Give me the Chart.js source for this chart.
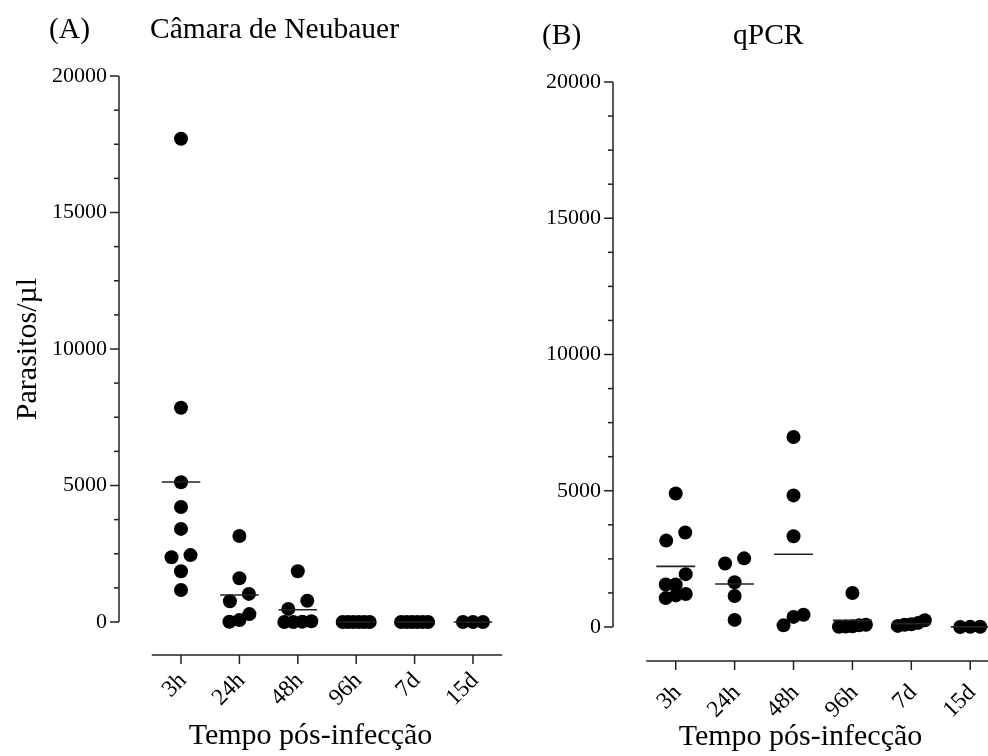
<!DOCTYPE html>
<html>
<head>
<meta charset="utf-8">
<script src="https://cdn.jsdelivr.net/npm/chart.js@4.4.1/dist/chart.umd.min.js"></script>
<style>
  html, body { margin: 0; padding: 0; background: #fff; }
  #wrap { position: relative; width: 988px; height: 756px; overflow: hidden; font-family: "Liberation Serif", "Times New Roman", serif; color: #000; }
  canvas { position: absolute; top: 0; }
  .t { position: absolute; font-size: 29.5px; line-height: 1; white-space: nowrap; }
</style>
</head>
<body>
<div id="wrap">
  <canvas id="cA" width="540" height="756" style="left:0px"></canvas>
  <canvas id="cB" width="530" height="756" style="left:494px"></canvas>
  <div class="t" style="left:49px; top:14px">(A)</div>
  <div class="t" style="left:150px; top:14px">Câmara de Neubauer</div>
  <div class="t" style="left:542px; top:20px">(B)</div>
  <div class="t" style="left:733px; top:20px">qPCR</div>
</div>
<script>
// ---- data ----
const categories = ['3h', '24h', '48h', '96h', '7d', '15d'];
const yTicksMajor = [0, 5000, 10000, 15000, 20000];

// (A) Câmara de Neubauer – parasitos/µl
const neubauer3h  = [17700, 7850, 5120, 4210, 3410, 2450, 2370, 1860, 1170];
const neubauer24h = [3150, 1600, 1030, 760, 290, 70, 10];
const neubauer48h = [1860, 780, 480, 30, 10, 0, 0];
const neubauer96h = [0, 0, 0, 0, 0, 0];
const neubauer7d  = [0, 0, 0, 0, 0, 0];
const neubauer15d = [0, 0, 0];

// (B) qPCR – parasitos/µl
const qpcr3h  = [4900, 3470, 3170, 1940, 1560, 1560, 1210, 1160, 1060];
const qpcr24h = [2520, 2330, 1640, 1140, 260];
const qpcr48h = [6970, 4830, 3330, 450, 370, 60];
const qpcr96h = [1250, 80, 60, 30, 20, 10];
const qpcr7d  = [250, 150, 100, 80, 40];
const qpcr15d = [10, 5, 0];

const groupsA = [neubauer3h, neubauer24h, neubauer48h, neubauer96h, neubauer7d, neubauer15d];
const groupsB = [qpcr3h, qpcr24h, qpcr48h, qpcr96h, qpcr7d, qpcr15d];

// ---- helpers ----
const FONT = '"Liberation Serif", "Times New Roman", serif';
const DOT = 14; // dot diameter px

// beeswarm-like horizontal spread (computed, in category units)
function swarm(values, pxPerCat, pxPerUnitY) {
  const idx = values.map((v, i) => i).sort((a, b) => values[a] - values[b]);
  const offs = new Array(values.length).fill(0);
  const rows = [];
  let row = [];
  idx.forEach(i => {
    if (row.length && (values[i] - values[row[0]]) * pxPerUnitY >= DOT - 1) { rows.push(row); row = []; }
    row.push(i);
  });
  if (row.length) rows.push(row);
  rows.forEach(r => {
    const n = r.length;
    if (n < 2) return;
    const sp = n === 2 ? 19 : Math.min(10, 27 / (n - 1));
    r.forEach((i, k) => { offs[i] = (k - (n - 1) / 2) * sp / pxPerCat; });
  });
  return offs;
}

function mean(a) { return a.reduce((s, v) => s + v, 0) / a.length; }

function buildDatasets(groups, pxPerCat, pxPerUnitY) {
  const pts = [];
  groups.forEach((vals, gi) => {
    const offs = swarm(vals, pxPerCat, pxPerUnitY);
    vals.forEach((v, k) => pts.push({ x: gi + offs[k], y: v }));
  });
  const ds = [{
    data: pts,
    pointRadius: DOT / 2,
    pointHoverRadius: DOT / 2,
    pointBackgroundColor: '#000',
    pointBorderWidth: 0,
    borderWidth: 0,
    clip: false,
    order: 2
  }];
  groups.forEach((vals, gi) => {
    const m = mean(vals);
    ds.push({
      data: [{ x: gi - 0.33, y: m }, { x: gi + 0.33, y: m }],
      showLine: true,
      borderColor: '#222',
      borderWidth: 1.6,
      pointRadius: 0,
      clip: false,
      order: 1
    });
  });
  return ds;
}

// axis drawing plugin (detached x-axis, major/minor y ticks)
function axesPlugin(xOffset) {
  return {
    id: 'axes',
    afterDraw(chart) {
      const ctx = chart.ctx;
      const xs = chart.scales.x, ys = chart.scales.y;
      const left = chart.chartArea.left;
      ctx.save();
      ctx.strokeStyle = '#222';
      ctx.lineWidth = 1.5;
      const yTop = ys.getPixelForValue(20000), yBot = ys.getPixelForValue(0);
      ctx.beginPath();
      ctx.moveTo(left, yTop); ctx.lineTo(left, yBot); ctx.stroke();
      for (let v = 0; v <= 20000; v += 1250) {
        const y = ys.getPixelForValue(v);
        const len = (v % 5000 === 0) ? 9 : 5;
        ctx.beginPath(); ctx.moveTo(left - len, y); ctx.lineTo(left, y); ctx.stroke();
      }
      const yAx = chart.chartArea.bottom + xOffset;
      ctx.beginPath();
      ctx.moveTo(xs.getPixelForValue(-0.5), yAx);
      ctx.lineTo(xs.getPixelForValue(categories.length - 0.5), yAx);
      ctx.stroke();
      categories.forEach((c, i) => {
        const x = xs.getPixelForValue(i);
        ctx.beginPath(); ctx.moveTo(x, yAx); ctx.lineTo(x, yAx + 9); ctx.stroke();
      });
      ctx.restore();
    }
  };
}

function makeChart(id, groups, cfg) {
  const pxPerUnitY = cfg.plotH / 20000;
  return new Chart(document.getElementById(id), {
    type: 'scatter',
    data: { datasets: buildDatasets(groups, cfg.pxPerCat, pxPerUnitY) },
    options: {
      responsive: false,
      animation: false,
      devicePixelRatio: 1,
      events: [],
      layout: { padding: { top: cfg.top, left: 0, right: cfg.right, bottom: 0 } },
      plugins: { legend: { display: false }, tooltip: { enabled: false } },
      scales: {
        x: {
          type: 'linear',
          min: cfg.xmin, max: cfg.xmax,
          grid: { display: true, drawOnChartArea: false, drawTicks: true, tickLength: cfg.xLabelGap, tickColor: 'rgba(0,0,0,0)' },
          border: { display: false },
          afterBuildTicks(s) { s.ticks = categories.map((c, i) => ({ value: i })); },
          afterFit(s) { s.height = cfg.xHeight; },
          ticks: {
            autoSkip: false,
            minRotation: 45, maxRotation: 45,
            padding: 0,
            labelOffset: 2,
            color: '#000',
            font: { family: FONT, size: 23.5 },
            callback: (v) => categories[Math.round(v)]
          },
          title: {
            display: true, text: 'Tempo pós-infecção', color: '#000',
            font: { family: FONT, size: 30 }, padding: { top: 0, bottom: cfg.xTitlePad }
          }
        },
        y: {
          type: 'linear',
          min: 0, max: 20000,
          grid: { display: false, drawTicks: false },
          border: { display: false },
          afterBuildTicks(s) { s.ticks = yTicksMajor.map(v => ({ value: v })); },
          afterFit(s) { s.width = 119; },
          ticks: {
            padding: 12,
            color: '#000',
            font: { family: FONT, size: 22 },
            callback: (v) => String(v)
          },
          title: {
            display: cfg.yTitle, text: 'Parasitos/µl', color: '#000',
            font: { family: FONT, size: 30 }, padding: { top: 10, bottom: 0 }
          }
        }
      }
    },
    plugins: [axesPlugin(cfg.xOffset)]
  });
}

makeChart('cA', groupsA, {
  top: 76, right: 38, xmin: -1.062, xmax: 5.497, pxPerCat: 58.4, plotH: 546,
  xHeight: 134, xOffset: 33, xLabelGap: 45, xTitlePad: 2, yTitle: true
});
makeChart('cB', groupsB, {
  top: 82, right: 36, xmin: -1.065, xmax: 5.302, pxPerCat: 58.9, plotH: 545,
  xHeight: 129, xOffset: 34, xLabelGap: 52, xTitlePad: 1, yTitle: false
});
</script>
</body>
</html>
